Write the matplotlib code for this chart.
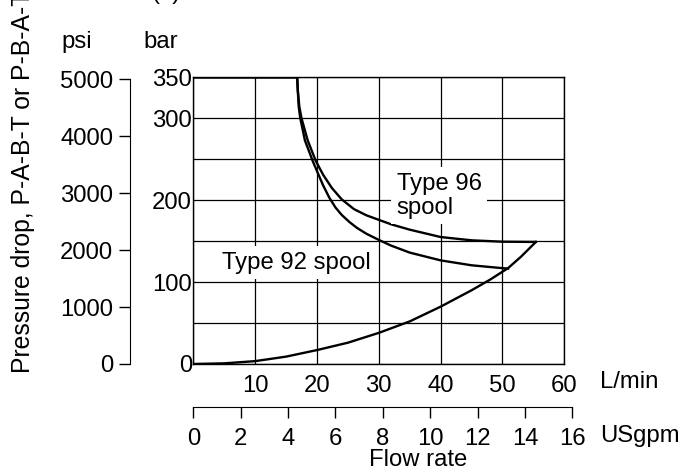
import numpy as np
import matplotlib.pyplot as plt

plt.rcParams["font.family"] = ["Liberation Sans", "DejaVu Sans"]
plt.rcParams["font.size"] = 17.2

# curves (flow in L/min, pressure in bar)
flow_92 = [0, 16.8, 16.9, 17.05, 17.3, 18.05, 19.3, 20.2, 21.0, 22.0, 23.0, 24.0,
           25.3, 26.5, 28.0, 30.0, 32.0, 35.0, 40.0, 45.0, 50.0, 50.9]
bar_92 = [350, 350, 334, 314, 300, 273, 248, 232, 218, 203, 191, 182,
          173, 166, 159, 151.5, 144.5, 136, 126.5, 120.5, 117, 116.5]

flow_96 = [0, 16.8, 16.9, 17.15, 17.5, 18.5, 19.8, 21.0, 22.4, 24.0, 26.0, 28.0,
           30.0, 32.0, 35.0, 40.0, 45.0, 50.0, 55.4]
bar_96 = [350, 350, 334, 314, 300, 273, 248, 231, 215, 201, 189, 181.5,
          176, 170.5, 164, 155, 151, 149.3, 149]

flow_ret = [0, 5, 10, 15, 20, 25, 30, 35, 40, 45, 48, 50.9, 53, 55.4]
bar_ret = [0, 0.8, 3.5, 9, 17, 26, 38, 52, 70, 90, 103, 117, 131, 149]

lpm_ticks = [10, 20, 30, 40, 50, 60]
bar_ticks = [0, 100, 200, 300, 350]
psi_ticks = [0, 1000, 2000, 3000, 4000, 5000]
gpm_ticks = [0, 2, 4, 6, 8, 10, 12, 14, 16]

W, H = 690, 470


def fx(px):
    return px / W


def fy(py):
    return 1 - py / H


fig = plt.figure(figsize=(6.9, 4.7), dpi=100)

# main chart (bar vs L/min)
ax = fig.add_axes([fx(193.3), fy(364), fx(564.3) - fx(193.3), fy(77.3) - fy(364)])
ax.set_xlim(0, 60)
ax.set_ylim(0, 350)
ax.set_xticks(range(0, 61, 10))
ax.set_xticklabels([""] + [str(t) for t in lpm_ticks])
ax.set_yticks(range(0, 351, 50))
ax.set_yticklabels([str(t) if t in bar_ticks else "" for t in range(0, 351, 50)])
ax.tick_params(length=0, pad=1)
ax.tick_params(axis="x", pad=8)
ax.grid(True, color="black", linewidth=0.9)
for s in ax.spines.values():
    s.set_linewidth(1.0)

ax.plot(flow_92, bar_92, color="black", lw=1.7, solid_joinstyle="round")
ax.plot(flow_96, bar_96, color="black", lw=1.7, solid_joinstyle="round")
ax.plot(flow_ret, bar_ret, color="black", lw=1.7, solid_joinstyle="round")

ax.text(32.9, 205.5, "Type 96\nspool", ha="left", va="center", linespacing=1.1,
        bbox=dict(facecolor="white", edgecolor="none", pad=4), zorder=5)
ax.text(4.7, 123.5, "Type 92 spool", ha="left", va="center",
        bbox=dict(facecolor="white", edgecolor="none", pad=4), zorder=5)

# psi axis on the far left
axp = fig.add_axes([fx(130), fy(364), 0.001, fy(77.3) - fy(364)])
axp.set_ylim(0, 5035)
axp.set_xticks([])
axp.set_yticks(psi_ticks)
axp.tick_params(axis="y", length=8, width=1, pad=4)
for k in ["top", "right", "bottom"]:
    axp.spines[k].set_visible(False)
axp.spines["left"].set_bounds(0, 5000)
axp.patch.set_visible(False)

# USgpm axis under the chart
axg = fig.add_axes([fx(193.3), fy(406.7), fx(572.3) - fx(193.3), 0.001])
axg.set_xlim(0, 16)
axg.set_yticks([])
axg.set_xticks(gpm_ticks)
axg.tick_params(axis="x", length=8, width=1, pad=7)
for k in ["top", "right", "left"]:
    axg.spines[k].set_visible(False)
axg.patch.set_visible(False)

fig.text(fx(600), fy(382), "L/min", ha="left", va="center")
fig.text(fx(600), fy(436), "USgpm", ha="left", va="center")
fig.text(fx(418), fy(460), "Flow rate", ha="center", va="center")
fig.text(fx(77), fy(42), "psi", ha="center", va="center")
fig.text(fx(161), fy(42), "bar", ha="center", va="center")
fig.text(fx(23), fy(372.7), "Pressure drop, P-A-B-T or P-B-A-T", rotation=90,
         ha="center", va="bottom", fontsize=17.8)
fig.text(fx(166), 1.003, "(a)", ha="center", va="baseline")

fig.savefig("out.png", dpi=100)
